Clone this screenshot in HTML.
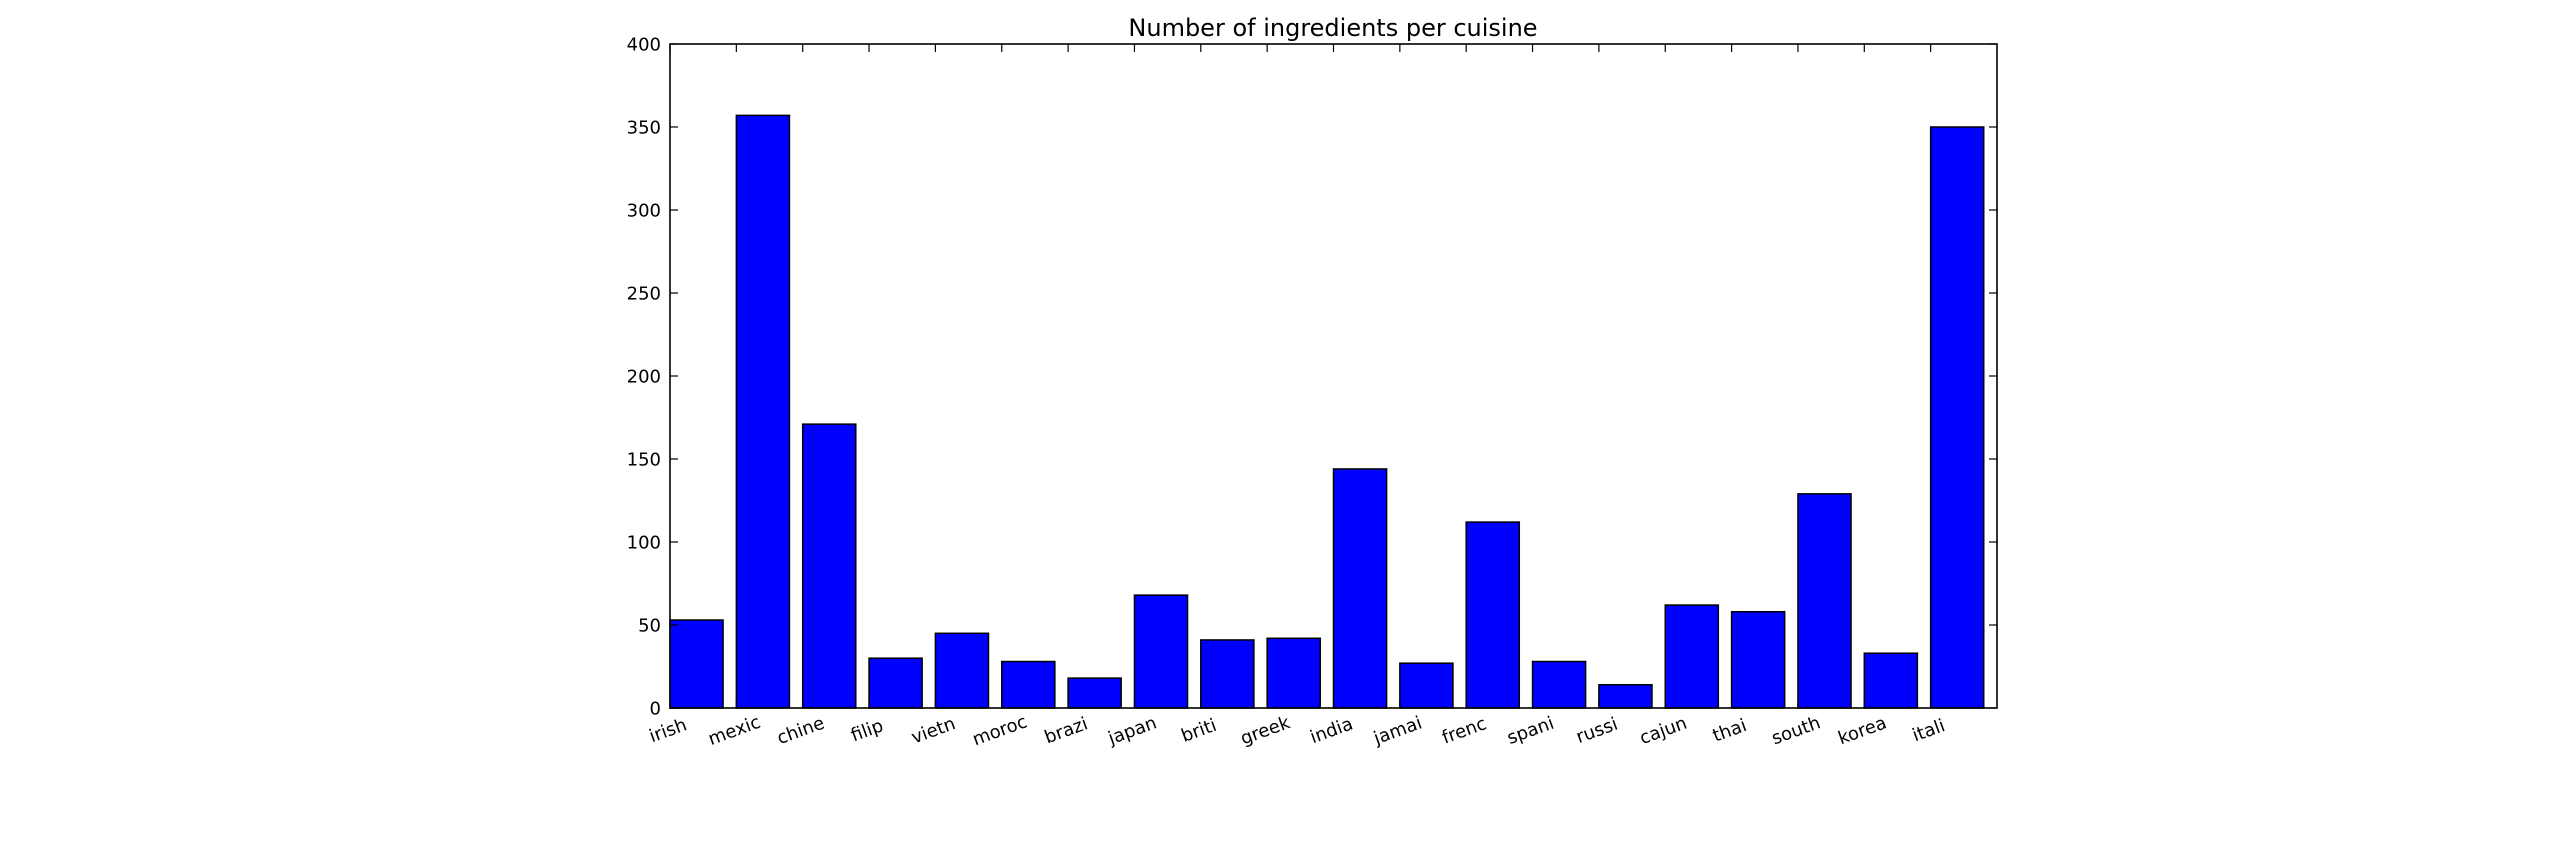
<!DOCTYPE html>
<html><head><meta charset="utf-8"><style>
html,body{margin:0;padding:0;background:#fff;}
svg text{font-family:"DejaVu Sans","Liberation Sans",sans-serif;fill:#000;}
</style></head><body>
<svg id="chart" width="2560" height="850" viewBox="0 0 2560 850" xmlns="http://www.w3.org/2000/svg">
<rect width="2560" height="850" fill="#fff"/>
<text x="1333" y="36" font-size="24" text-anchor="middle">Number of ingredients per cuisine</text>
<g id="bars"></g>
<g id="axes"></g>
</svg>
<script>
const categories = ["irish","mexic","chine","filip","vietn","moroc","brazi","japan","briti","greek","india","jamai","frenc","spani","russi","cajun","thai","south","korea","itali"];
const values = [53,357,171,30,45,28,18,68,41,42,144,27,112,28,14,62,58,129,33,350];
const yTicks = [0,50,100,150,200,250,300,350,400];

const L=670,R=1997,T=44,B=708;
const n=categories.length;
const x = v => L + (R-L)*v/n;
const y = v => B - (B-T)*v/400;
const NS="http://www.w3.org/2000/svg";
const bars=document.getElementById('bars'), axes=document.getElementById('axes');
function mk(tag,attrs,parent){const e=document.createElementNS(NS,tag);for(const k in attrs)e.setAttribute(k,attrs[k]);parent.appendChild(e);return e;}

values.forEach((v,i)=>{
  const r=mk('rect',{x:x(i),y:y(v),width:x(i+0.8)-x(i),height:y(0)-y(v),fill:'#0000ff',stroke:'#000','stroke-width':1.5},bars);
  
  
});

const frame=mk('rect',{x:L,y:T,width:R-L,height:B-T,fill:'none',stroke:'#000','stroke-width':1.6},axes);



yTicks.forEach(t=>{
  const yy=y(t);
  mk('line',{x1:L,y1:yy,x2:L+8,y2:yy,stroke:'#000','stroke-width':1.2},axes);
  mk('line',{x1:R,y1:yy,x2:R-8,y2:yy,stroke:'#000','stroke-width':1.2},axes);
  const tx=mk('text',{x:L-9,y:yy+6.5,'font-size':18,'text-anchor':'end'},axes);
  tx.textContent=t;
  
  
});

categories.forEach((c,i)=>{
  const xx=x(i);
  mk('line',{x1:xx,y1:B,x2:xx,y2:B-8,stroke:'#000','stroke-width':1.2},axes);
  mk('line',{x1:xx,y1:T,x2:xx,y2:T+8,stroke:'#000','stroke-width':1.2},axes);
  const tx=mk('text',{x:0,y:0,'font-size':18,'text-anchor':'middle',transform:`translate(${xx},${B+28}) rotate(-20)`},axes);
  tx.textContent=c;
  
  
});
</script>
</body></html>
